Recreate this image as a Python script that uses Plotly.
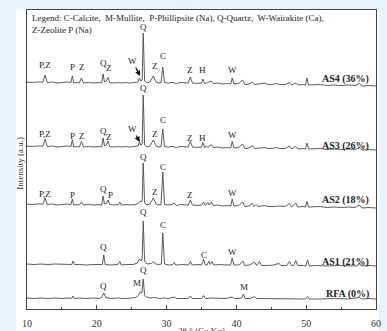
import plotly.graph_objects as go

# ---- data: (2theta [deg], intensity [a.u., stacked]) ----
as4 = [(10.0,227),(10.8,226.5),(11.5,227),(12.3,227),(12.6,234),(12.9,226.5),(13.6,227),(14.3,226),
       (15.0,226.5),(15.8,227),(16.3,226.5),(16.5,233),(16.7,226),(17.2,226.5),(17.5,226),(17.8,231),
       (18.1,226),(18.8,226.5),(19.6,226),(20.3,226.5),(20.7,226),(20.9,235),(21.1,227),(21.35,228),
       (21.6,231.5),(21.85,226.5),(22.4,226),(23.0,226.5),(23.5,226),(24.1,226.5),(24.8,226),(25.5,226.5),
       (25.9,227),(26.1,231),(26.3,228),(26.5,229),(26.65,276),(26.85,228),(27.2,226),(27.6,227),
       (28.1,233),(28.5,227),(28.9,226),(29.2,226.5),(29.45,242),(29.7,226.5),(30.2,226),(30.8,226.5),
       (31.4,225.5),(32.0,226.5),(32.7,226),(33.1,226),(33.4,232),(33.7,226),(34.4,225.5),(35.0,226),
       (35.2,230),(35.45,225.5),(35.9,226.5),(36.4,228),(36.7,225.5),(37.3,226),(38.0,225),(38.7,225.5),
       (39.2,225),(39.4,231),(39.65,225),(40.3,225.5),(40.9,229),(41.2,224.5),(41.8,225),(42.3,227),
       (42.6,224.5),(43.4,225),(44.1,226),(44.5,224.5),(45.2,224.5),(45.7,225.5),(46.2,224.5),(47.0,224.5),
       (47.6,226.5),(47.9,224),(48.5,226),(48.8,224),(49.5,224.5),(49.9,224),(50.1,231),(50.35,224),
       (51.0,224),(52.0,224.5),(53.0,223.5),(54.0,224),(55.0,223.5),(56.0,224),(57.0,223.5),(57.6,225.5),
       (58.0,223),(59.0,223.5),(60.0,223)]

as3 = [(10.0,163),(10.8,162.5),(11.5,163),(12.3,163),(12.6,170),(12.9,162.5),(13.6,163),(14.3,162),
       (15.0,162.5),(15.8,163),(16.3,162.5),(16.5,169),(16.7,162),(17.2,162.5),(17.5,162),(17.8,167.5),
       (18.1,162),(18.8,162.5),(19.6,162),(20.3,162.5),(20.7,162),(20.9,171),(21.1,163),(21.35,164),
       (21.6,168),(21.85,162.5),(22.4,162),(23.0,162.5),(23.5,162),(24.1,162.5),(24.8,162),(25.5,162.5),
       (25.9,163),(26.1,167),(26.3,164),(26.5,165),(26.65,214),(26.85,164),(27.2,162),(27.6,163),
       (28.1,169),(28.5,163),(28.9,162),(29.2,162.5),(29.45,180),(29.7,162.5),(30.2,162),(30.8,162.5),
       (31.4,161.5),(32.0,162.5),(32.7,162),(33.1,162),(33.4,168),(33.7,162),(34.4,161.5),(35.0,162),
       (35.2,166.5),(35.45,161.5),(35.7,163),(35.9,161.5),(36.4,164.5),(36.7,161.5),(37.3,162),(38.0,161),
       (38.7,161.5),(39.2,161),(39.4,167.5),(39.65,161),(40.3,161.5),(40.9,165),(41.2,160.5),(41.8,161),
       (42.3,163.5),(42.6,160.5),(43.4,161),(44.1,161.5),(44.5,160.5),(45.2,160.5),(45.7,161.5),(46.2,160.5),
       (47.0,160.5),(47.6,163),(47.9,160),(48.5,162.5),(48.8,160),(49.5,160.5),(49.9,160),(50.1,166),
       (50.35,160),(51.0,160),(52.0,160.5),(53.0,159.5),(54.0,160),(55.0,159.5),(56.0,160),(57.0,159.5),
       (57.6,161.5),(58.0,159),(59.0,159.5),(60.0,159)]

as2 = [(10.0,105),(10.8,104.5),(11.5,105),(12.3,105),(12.6,111),(12.9,104.5),(13.6,105),(14.3,104),
       (15.0,104.5),(15.8,105),(16.3,104.5),(16.5,110),(16.7,104),(17.2,104.5),(17.5,104),(17.8,107),
       (18.1,104),(18.8,104.5),(19.6,104),(20.3,104.5),(20.7,104),(20.9,113),(21.1,105),(21.35,105.5),
       (21.6,109),(21.85,104.5),(22.4,104),(23.1,104.5),(23.3,107),(23.5,104),(24.3,104.5),(25.0,104),
       (25.6,104.5),(26.0,106),(26.2,108),(26.4,107),(26.5,108),(26.65,146),(26.85,106),(27.2,104),
       (27.6,105),(28.1,111),(28.5,105),(28.9,104),(29.2,104.5),(29.45,137),(29.7,104.5),(30.2,104),
       (30.8,104.5),(31.1,106),(31.4,103.5),(32.0,104.5),(32.7,104),(33.1,104),(33.4,109),(33.7,104),
       (34.4,103.5),(35.0,104),(35.3,107),(35.55,103.5),(35.9,106.5),(36.1,104),(36.4,107),(36.7,103.5),
       (37.3,104),(38.0,103),(38.7,103.5),(39.2,103),(39.4,110),(39.65,103),(40.3,103.5),(40.9,107),
       (41.2,102.5),(41.8,103),(42.3,105.5),(42.55,102.5),(42.8,104.5),(43.1,102.5),(44.1,103.5),(44.5,102.5),
       (45.2,102.5),(46.2,103),(47.0,102.5),(47.6,105.5),(47.9,102),(48.5,106),(48.8,102),(49.5,102.5),
       (49.9,102),(50.1,107.5),(50.35,102),(51.0,102),(52.0,102.5),(53.0,101.5),(54.0,102),(55.0,101.5),
       (56.0,102),(57.0,101.5),(57.6,104),(58.0,101),(59.0,101.5),(60.0,101)]

as1 = [(10.0,45),(11.0,44.5),(12.0,45),(13.0,44.5),(14.0,45),(15.0,44.5),(16.0,44.5),(16.4,44.5),
       (16.6,48),(16.8,44.5),(17.5,44.5),(18.5,44),(19.5,44.5),(20.4,44),(20.8,44.5),(21.0,54),
       (21.2,44.5),(22.0,44),(23.0,44.5),(23.3,47.5),(23.5,44),(24.3,44.5),(25.2,44.5),(25.8,46),
       (26.1,50),(26.35,48),(26.5,50),(26.65,88),(26.85,48),(27.2,45),(27.8,45.5),(28.1,47.5),
       (28.4,45),(28.9,44.5),(29.25,45),(29.45,76),(29.7,45),(30.3,44),(30.9,44.5),(31.1,46.5),
       (31.3,44),(32.3,44.5),(33.15,44),(33.4,47.5),(33.65,44),(34.5,44.5),(35.0,44),(35.3,49.5),
       (35.5,44.5),(35.8,44),(36.05,48),(36.25,44.5),(36.5,47.5),(36.75,44),(37.6,44.5),(38.5,44),
       (39.15,44),(39.4,51),(39.65,44),(40.4,44),(40.95,48),(41.2,43.5),(41.9,44),(42.6,47),
       (42.9,43.5),(43.3,47.5),(43.6,43.5),(44.5,43.5),(45.3,44),(46.1,45.5),(46.4,43.5),(47.2,43.5),
       (47.6,47.5),(47.9,43.5),(48.2,43.5),(48.5,48.5),(48.8,43.5),(49.6,43.5),(49.95,43),(50.2,49),
       (50.45,43),(51.5,43.5),(53.0,43),(54.5,43.5),(56.0,43),(57.3,43),(57.6,46),(57.9,43),
       (59.0,43.5),(60.0,43)]

rfa = [(10.0,11),(11.0,10.5),(12.0,11),(13.0,10.5),(14.0,11),(15.0,10.5),(16.0,11),(16.4,10.5),
       (16.6,13),(16.8,10.5),(17.5,11),(18.5,10.5),(19.5,11),(20.4,10.5),(20.7,11.5),(21.0,16),
       (21.3,11.5),(22.0,10.5),(23.0,11),(24.0,10.5),(25.0,11),(25.6,11.5),(26.0,14),(26.2,17),
       (26.45,16),(26.65,30),(26.85,14),(27.1,12),(27.6,11),(28.3,11.5),(29.0,10.5),(29.5,11),
       (30.3,10.5),(31.1,12),(31.4,10.5),(32.3,10.5),(33.15,10.5),(33.4,13),(33.65,10.5),(34.5,10.5),
       (35.05,10.5),(35.3,13.5),(35.55,10.5),(36.5,11),(37.5,10.5),(38.5,10.5),(39.4,12),(39.7,10.5),
       (40.5,10.5),(40.75,11),(41.0,15),(41.25,10.5),(42.0,10.5),(42.6,12.5),(42.9,10.5),(44.0,10.5),
       (45.0,10),(46.0,10.5),(47.0,10),(48.0,10.5),(49.0,10),(49.9,10),(50.2,12.5),(50.45,10),
       (52.0,10),(54.0,10.5),(56.0,10),(57.6,11.5),(58.0,10),(59.0,10.5),(60.0,10)]

series = [("AS4 (36%)", as4, 230), ("AS3 (26%)", as3, 163), ("AS2 (18%)", as2, 109),
          ("AS1 (21%)", as1, 47), ("RFA (0%)", rfa, 15)]

# phase labels: (2theta, intensity, text)
phase_labels = [
    (12.6,241,"P,Z"),(16.5,239,"P"),(17.85,239,"Z"),(20.9,243,"Q"),(21.75,238,"Z"),(26.7,279,"Q"),
    (28.3,240,"Z"),(29.55,250,"C"),(33.4,236,"Z"),(35.2,236,"H"),(39.4,236,"W"),
    (12.6,172,"P,Z"),(16.5,170,"P"),(17.85,170,"Z"),(20.9,175,"Q"),(21.75,169,"Z"),(26.7,218,"Q"),
    (28.3,172,"Z"),(29.55,186,"C"),(33.4,168,"Z"),(35.2,168,"H"),(39.4,171,"W"),
    (12.6,112,"P,Z"),(16.5,111,"P"),(20.9,117,"Q"),(21.95,111,"P"),(26.7,149,"Q"),
    (28.4,114,"Z"),(29.55,139,"C"),(33.4,111,"Z"),(39.4,113,"W"),
    (21.0,59,"Q"),(26.7,94,"Q"),(29.55,81,"C"),(35.3,51,"C"),(39.4,54,"W"),
    (21.0,20,"Q"),(25.7,23,"M"),(26.7,36,"Q"),(41.1,19,"M"),
]
# W labels with arrows: (text 2theta, text intensity, head 2theta, head intensity)
w_arrows = [(25.1,248,26.2,233),(25.1,180,26.15,167)]

legend_text = ("Legend: C-Calcite,  M-Mullite,  P-Phillipsite (Na), Q-Quartz,  W-Wairakite (Ca),"
               "<br>Z-Zeolite P (Na)")
x_ticks = [10, 20, 30, 40, 50, 60]

SERIF = "Liberation Serif"
INK = "#222222"

fig = go.Figure()
for name, pts, _ in series:
    xs = [p[0] for p in pts]
    ys = [p[1] for p in pts]
    fig.add_trace(go.Scatter(x=xs, y=ys, mode="lines", name=name,
                             line=dict(color="#4a4a4a", width=0.9), showlegend=False))

ann = []
for x, y, t in phase_labels:
    ann.append(dict(x=x, y=y, xref="x", yref="y", text=t, showarrow=False, yshift=3,
                    font=dict(family=SERIF, size=9, color=INK)))
for name, pts, ly in series:
    ann.append(dict(x=59.3, y=ly, xref="x", yref="y", text="<b>%s</b>" % name, showarrow=False,
                    xanchor="right", font=dict(family=SERIF, size=10, color=INK)))
for tx, ty, hx, hy in w_arrows:
    ann.append(dict(x=hx, y=hy, xref="x", yref="y", ax=tx, ay=ty, axref="x", ayref="y",
                    text="W", showarrow=True, arrowhead=2, arrowsize=0.9, arrowwidth=1.2,
                    arrowcolor="#111111", standoff=0, startstandoff=0,
                    font=dict(family=SERIF, size=9, color=INK)))
ann.append(dict(x=0.008, y=0.997, xref="paper", yref="paper", text=legend_text, showarrow=False,
                xanchor="left", yanchor="top", align="left",
                font=dict(family=SERIF, size=9, color=INK)))
ann.append(dict(x=-0.021, y=0.488, xref="paper", yref="paper", text="Intensity (a.u.)",
                textangle=-90, showarrow=False, xanchor="center", yanchor="middle",
                font=dict(family=SERIF, size=9, color="#333333")))
ann.append(dict(x=0.5, y=-0.05, xref="paper", yref="paper", text="2θ ° (Cu Kα)",
                showarrow=False, xanchor="center", yanchor="top",
                font=dict(family=SERIF, size=9, color="#333333")))

fig.update_layout(
    width=387, height=331, autosize=False,
    margin=dict(l=27, r=11, t=10, b=22, autoexpand=False),
    paper_bgcolor="#e5f5fb", plot_bgcolor="white",
    annotations=ann,
    shapes=[dict(type="rect", xref="paper", yref="paper", x0=-0.0315, x1=1.0086,
                 y0=-0.08, y1=1.0033, fillcolor="white", line=dict(width=0), layer="below")],
    xaxis=dict(range=[10, 60], tickvals=x_ticks, ticks="inside", ticklen=4, tickcolor="#444444",
               minor=dict(dtick=5, ticks="inside", ticklen=2, tickcolor="#444444"),
               showline=True, mirror=True, linecolor="#444444", linewidth=1.2,
               showgrid=False, zeroline=False, ticklabelstandoff=5, automargin=False,
               tickfont=dict(family=SERIF, size=10, color="#333333")),
    yaxis=dict(range=[0, 299], showticklabels=False, ticks="", showline=True, mirror=True,
               linecolor="#444444", linewidth=1.2, showgrid=False, zeroline=False,
               automargin=False),
)

fig.write_html("out.html", config={"displayModeBar": False},
               post_script="document.body.style.margin='0';document.body.style.padding='0';")
